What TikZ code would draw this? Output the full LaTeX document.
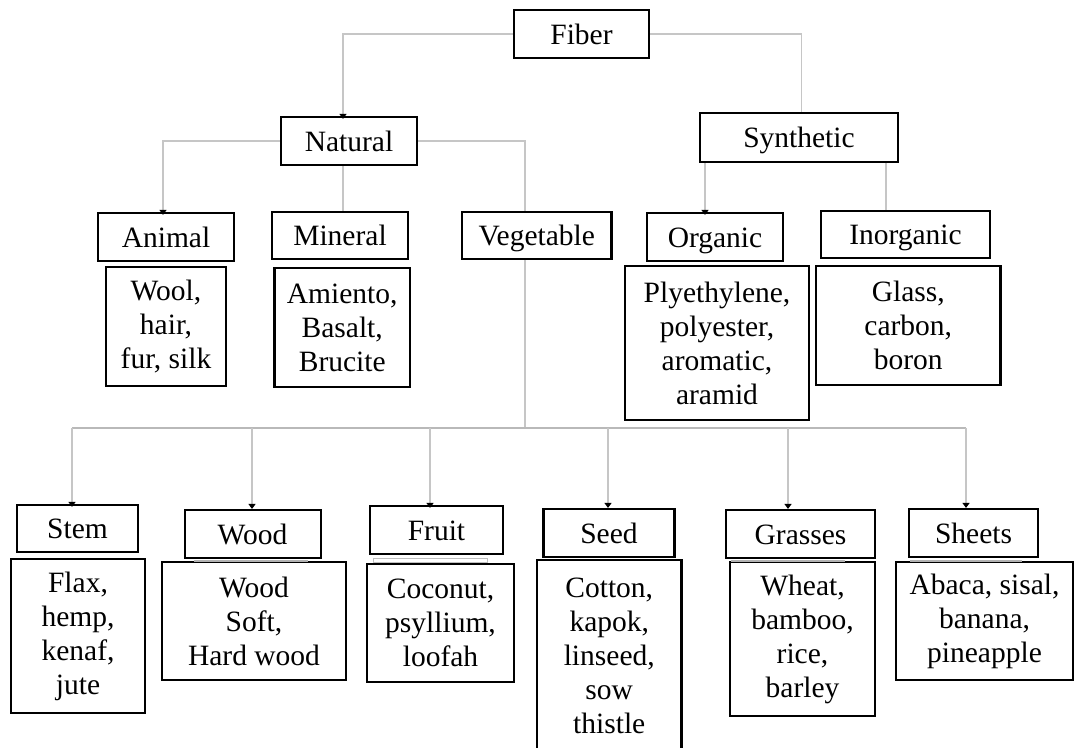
\documentclass[tikz,border=0pt]{standalone}
\usepackage{fontspec}
\setmainfont{Liberation Serif}
\usetikzlibrary{arrows.meta,calc}
\begin{document}
\begin{tikzpicture}[x=1pt,y=-1pt,
  box/.style={draw=black, line width=2.2pt, inner sep=0pt, align=center,
    font=\fontsize{29.5}{34}\selectfont},
  lab/.style={box, text height=23pt, text depth=3pt},
  conn/.style={draw=gray!45, line width=1.5pt},
  bus/.style={draw=gray!55, line width=1.5pt},
  tip/.style={-{Triangle[width=7pt,length=5pt,color=black]}},
  shade/.style={draw=gray!60, line width=2pt}]
\clip (0,0) rectangle (1075,747);
\fill[white] (0,0) rectangle (1075,747);

% level 0-1
\node[lab, minimum width=135pt, minimum height=48pt] (fiber) at (581.5,34) {Fiber};
\node[lab, minimum width=136pt, minimum height=48pt] (natural) at (349,141) {Natural};
\node[lab, minimum width=198pt, minimum height=49pt] (synth) at (799,137.5) {Synthetic};

% level 2
\node[lab, minimum width=136pt, minimum height=48pt] (animal) at (166,237) {Animal};
\node[lab, minimum width=136pt, minimum height=47pt] (mineral) at (340,235.5) {Mineral};
\node[lab, minimum width=149.5pt, minimum height=47pt] (veg) at (536.75,235.5) {Vegetable};
\node[lab, minimum width=136pt, minimum height=48pt] (organic) at (715,237) {Organic};
\node[lab, minimum width=169pt, minimum height=47pt] (inorg) at (905.5,234.5) {Inorganic};

% level 2 examples
\node[box, minimum width=120pt, minimum height=119pt] (wool) at (166,326.5) {Wool,\\hair,\\fur, silk};
\node[box, minimum width=135.5pt, minimum height=119pt] (amiento) at (342.25,327.5) {Amiento,\\Basalt,\\Brucite};
\node[box, minimum width=184pt, minimum height=154pt] (ply) at (717,343) {Plyethylene,\\polyester,\\aromatic,\\aramid};
\node[box, minimum width=184.5pt, minimum height=119pt] (glass) at (908.25,325.5) {Glass,\\carbon,\\boron};

% level 3
\node[lab, minimum width=121pt, minimum height=47pt] (stem) at (77.5,528.5) {Stem};
\node[lab, minimum width=136pt, minimum height=48pt] (wood) at (252.6,534) {Wood};
\node[lab, minimum width=133pt, minimum height=48pt] (fruit) at (436.5,530) {Fruit};
\node[lab, minimum width=131pt, minimum height=48pt] (seed) at (609,533) {Seed};
\node[lab, minimum width=149pt, minimum height=48pt] (grass) at (800.5,534) {Grasses};
\node[lab, minimum width=129pt, minimum height=48pt] (sheets) at (973.5,533) {Sheets};

% level 3 examples
\node[box, minimum width=134pt, minimum height=154pt] (flax) at (78,636) {Flax,\\hemp,\\kenaf,\\jute};
\node[box, minimum width=184.5pt, minimum height=118pt] (woodsoft) at (254,621) {Wood\\Soft,\\Hard wood};
\node[box, minimum width=147pt, minimum height=118pt] (coco) at (440.5,623) {Coconut,\\psyllium,\\loofah};
\node[box, minimum width=144.5pt, minimum height=192pt] (cotton) at (609.25,656) {Cotton,\\kapok,\\linseed,\\sow\\thistle};
\node[box, minimum width=145pt, minimum height=154pt] (wheat) at (802.5,639) {Wheat,\\bamboo,\\rice,\\barley};
\node[box, minimum width=177pt, minimum height=118pt] (abaca) at (984.5,621) {Abaca, sisal,\\banana,\\pineapple};

% connectors, level 0 -> 1
\draw[conn] (fiber.west) -| ($(natural.north)+(-6,-1)$);
\draw[conn,tip] ($(natural.north)+(-6,-2)$) -- ($(natural.north)+(-6,3)$);
\draw[conn] (fiber.east) -| ($(synth.north)+(2.5,0)$);

% Natural -> children
\draw[conn] (natural.west) -| ($(animal.north)+(-3,-1)$);
\draw[conn,tip] ($(animal.north)+(-3,-2)$) -- ($(animal.north)+(-3,3)$);
\draw[conn] ($(natural.south)+(-6,0)$) -- ($(mineral.north)+(3,0)$);
\draw[conn] (natural.east) -| ($(veg.north)+(-11.75,0)$);

% Synthetic -> children
\draw[conn] ($(synth.south)+(-94,0)$) -- ($(organic.north)+(-10,-1)$);
\draw[conn,tip] ($(organic.north)+(-10,-2)$) -- ($(organic.north)+(-10,3)$);
\draw[conn] ($(synth.south)+(87,0)$) -- ($(inorg.north)+(-19.5,0)$);

% Vegetable -> bus
\coordinate (bl) at (72,428);
\coordinate (br) at (966,428);
\draw[conn] ($(veg.south)+(-11.75,0)$) -- ($(veg.south)+(-11.75,169)$);
\draw[bus] (bl) -- (br);

\coordinate (sN) at ($(stem.north)+(-5.5,3)$);
\coordinate (wN) at ($(wood.north)+(-0.6,0)$);
\coordinate (fN) at ($(fruit.north)+(-6.5,3)$);
\coordinate (eN) at ($(seed.north)+(-1,0)$);
\coordinate (gN) at ($(grass.north)+(-12.5,0)$);
\coordinate (hN) at ($(sheets.north)+(-7.5,0)$);
\draw[conn,tip] (sN |- bl) -- (sN);
\draw[conn,tip] (wN |- bl) -- (wN);
\draw[conn,tip] (fN |- bl) -- (fN);
\draw[conn,tip] (eN |- bl) -- (eN);
\draw[conn,tip] (gN |- bl) -- (gN);
\draw[conn,tip] (hN |- bl) -- (hN);

% faint grey bars between label boxes and example boxes
\draw[shade] ($(wood.south west)+(10.5,2)$) -- ($(wood.south east)+(-13.7,2)$);
\draw[draw=gray!50, line width=1pt] ($(fruit.south west)+(5,3)$) rectangle ($(coco.north east)+(-28,0)$);
\draw[shade] ($(grass.south west)+(5.6,2)$) -- ($(grass.south east)+(-31.4,2)$);
\draw[shade] ($(sheets.south west)+(2,3)$) -- ($(sheets.south east)+(-17,3)$);
\end{tikzpicture}
\end{document}
